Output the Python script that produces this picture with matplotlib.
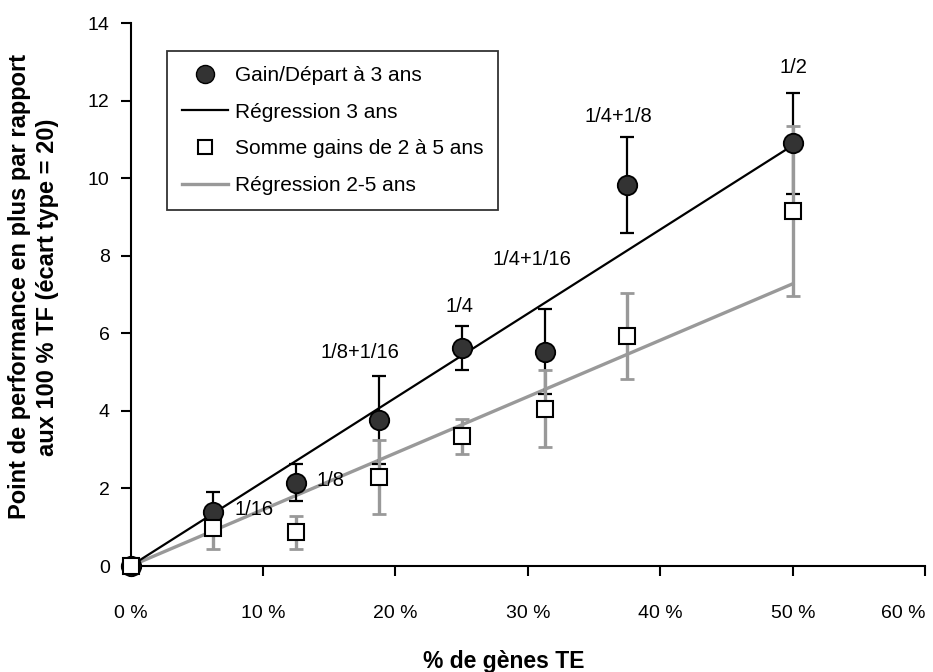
import matplotlib
matplotlib.use("Agg")
import matplotlib.pyplot as plt
from matplotlib.lines import Line2D
from matplotlib.ticker import FuncFormatter

plt.rcParams['font.family'] = ['Liberation Sans', 'DejaVu Sans']

# % de gènes TE
pct_te = [0, 6.25, 12.5, 18.75, 25, 31.25, 37.5, 50]

# gain / départ à 3 ans (cercles)
gain3 = [0, 1.40, 2.15, 3.77, 5.62, 5.53, 9.83, 10.90]
err3 = [0.08, 0.50, 0.48, 1.14, 0.56, 1.09, 1.24, 1.30]

# somme gains de 2 à 5 ans (carrés)
gain25 = [0, 0.97, 0.87, 2.29, 3.35, 4.06, 5.93, 9.15]
err25 = [0.05, 0.53, 0.42, 0.95, 0.45, 1.00, 1.12, 2.20]

# droites de régression (extrémités)
reg_x = [0, 50]
reg3 = [0, 10.85]
reg25 = [0, 7.28]

# étiquettes des proportions
lab_text = ["1/16", "1/8", "1/8+1/16", "1/4", "1/4+1/16", "1/4+1/8", "1/2"]
lab_x = [9.3, 15.1, 17.3, 24.8, 30.3, 36.8, 50.0]
lab_y = [1.45, 2.2, 5.5, 6.7, 7.9, 11.6, 12.85]

dark = '#333333'
grey = '#999999'

fig = plt.figure(figsize=(9.33, 6.72), dpi=100)
ax = fig.add_axes([0.1399, 0.1577, 0.852, 0.808])

ax.plot(reg_x, reg25, color=grey, lw=2.4, zorder=2)
ax.plot(reg_x, reg3, color='black', lw=1.6, zorder=3)

ax.errorbar(pct_te, gain3, yerr=err3, fmt='none', ecolor='black',
            elinewidth=1.6, capsize=5, capthick=1.6, zorder=3, clip_on=False)
ax.errorbar(pct_te, gain25, yerr=err25, fmt='none', ecolor=grey,
            elinewidth=2.4, capsize=5, capthick=2.0, zorder=4, clip_on=False)

ax.plot(pct_te, gain3, 'o', ms=14, mfc=dark, mec='black', mew=1.3,
        zorder=5, clip_on=False)
ax.plot(pct_te, gain25, 's', ms=11, mfc='white', mec='black', mew=1.5,
        zorder=6, clip_on=False)

for t, x, y in zip(lab_text, lab_x, lab_y):
    ax.text(x, y, t, ha='center', va='center', fontsize=14.5)

ax.set_xlim(0, 60)
ax.set_ylim(0, 14)
ax.set_xticks(range(0, 61, 10))
ax.set_yticks(range(0, 15, 2))
ax.xaxis.set_major_formatter(FuncFormatter(lambda v, p: f"{int(v)} %"))

for s in ['top', 'right']:
    ax.spines[s].set_visible(False)
for s in ['left', 'bottom']:
    ax.spines[s].set_linewidth(1.5)

ax.tick_params(axis='x', direction='out', length=7, width=1.5, pad=21, labelsize=14)
ax.tick_params(axis='y', direction='out', length=7, width=1.5, pad=8, labelsize=14)
# le dernier libellé reste dans la figure
ax.get_xticklabels()[-1].set_ha('right')

ax.set_xlabel("% de gènes TE", fontsize=16.5, fontweight='bold')
ax.xaxis.set_label_coords(0.47, -0.155)
ax.set_ylabel("Point de performance en plus par rapport\naux 100 % TF (écart type = 20)",
              fontsize=17, fontweight='bold', linespacing=1.3)
ax.yaxis.set_label_coords(-0.09, 0.514)

handles = [
    Line2D([], [], ls='none', marker='o', ms=13, mfc=dark, mec='black'),
    Line2D([], [], color='black', lw=1.6),
    Line2D([], [], ls='none', marker='s', ms=10, mfc='white', mec='black', mew=1.5),
    Line2D([], [], color=grey, lw=2.4),
]
labels = ["Gain/Départ à 3 ans", "Régression 3 ans",
          "Somme gains de 2 à 5 ans", "Régression 2-5 ans"]
leg = ax.legend(handles, labels, loc='upper left', bbox_to_anchor=(0.046, 0.948),
                borderaxespad=0, fontsize=15, frameon=True, fancybox=False,
                edgecolor='black', handlelength=2.2, handletextpad=0.35,
                labelspacing=0.85, borderpad=0.7)
leg.get_frame().set_linewidth(1.3)

fig.savefig("out.png", dpi=100)
